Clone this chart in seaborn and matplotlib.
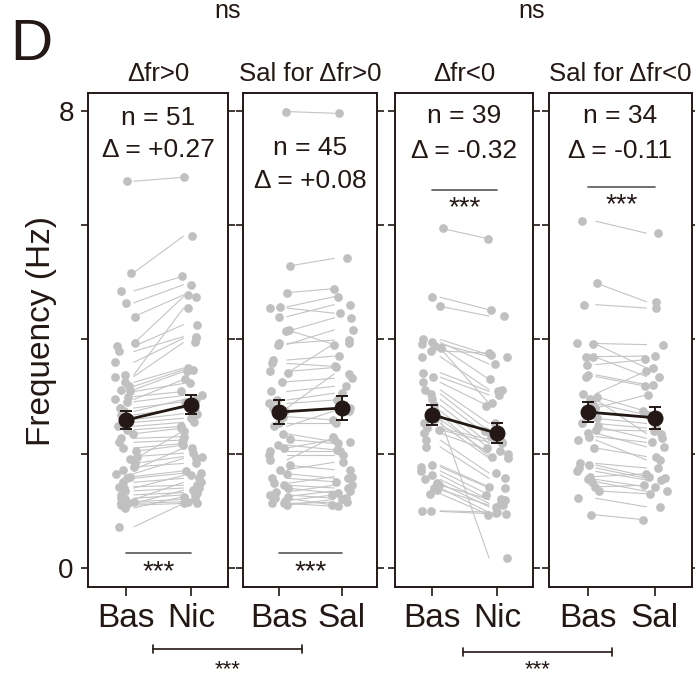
import numpy as np
import pandas as pd
import seaborn as sns
import matplotlib.pyplot as plt
from matplotlib import font_manager as fm

# firing frequency (Hz) of each cell, baseline vs treatment
bas_nic_up = [6.77, 5.17, 4.85, 4.64, 4.40, 3.93, 3.88, 3.79, 3.60, 3.38, 3.35, 3.25, 3.18,
              3.12, 3.09, 3.00, 2.95, 2.91, 2.80, 2.74, 2.68, 2.60, 2.55, 2.48, 2.42, 2.35,
              2.27, 2.20, 2.10, 2.04, 1.95, 1.90, 1.83, 1.77, 1.72, 1.65, 1.60, 1.57, 1.50,
              1.42, 1.40, 1.35, 1.28, 1.22, 1.20, 1.16, 1.13, 1.13, 1.10, 1.05, 0.72]
nic_up = [6.84, 5.81, 5.11, 4.96, 4.78, 4.75, 4.26, 4.05, 4.02, 4.55, 3.95, 3.50, 3.47,
          3.44, 3.23, 3.09, 3.30, 3.02, 2.91, 2.95, 2.80, 2.70, 2.62, 2.55, 2.48, 2.45,
          2.30, 2.24, 2.18, 2.15, 2.01, 2.40, 1.95, 1.83, 2.10, 1.92, 1.70, 1.66, 1.57,
          1.45, 1.62, 1.40, 1.32, 1.28, 1.50, 1.20, 1.16, 1.36, 1.13, 1.25, 1.13]

bas_sal_up = [7.99, 5.28, 4.82, 4.57, 4.55, 4.40, 4.17, 4.14, 3.93, 3.91, 3.64, 3.58, 3.44,
              3.41, 3.26, 3.09, 2.94, 2.88, 2.80, 2.74, 2.65, 2.53, 2.48, 2.35, 2.25, 2.15,
              2.04, 1.98, 1.89, 1.80, 1.72, 1.65, 1.57, 1.48, 1.45, 1.40, 1.33, 1.28, 1.25,
              1.22, 1.18, 1.13, 1.13, 1.10, 2.10]
sal_up = [7.96, 5.42, 4.89, 4.75, 4.46, 4.61, 3.91, 4.38, 3.99, 4.17, 3.71, 3.53, 3.51,
          3.93, 3.32, 3.18, 3.06, 2.94, 3.40, 2.80, 2.59, 2.53, 2.75, 2.21, 2.18, 2.07,
          2.04, 1.98, 2.30, 1.72, 1.85, 1.57, 1.51, 1.60, 1.40, 1.31, 1.45, 1.22, 1.35,
          1.10, 1.28, 1.15, 1.08, 1.20, 2.25]

bas_nic_down = [5.95, 4.74, 4.58, 4.00, 3.95, 3.92, 3.85, 3.80, 3.70, 3.42, 3.34, 3.25, 3.12,
                3.05, 2.95, 2.85, 2.75, 2.68, 2.60, 2.53, 2.45, 2.42, 2.36, 2.24, 2.12, 1.80,
                1.77, 1.70, 1.63, 1.55, 1.48, 1.45, 1.40, 1.37, 1.30, 1.00, 0.99, 2.62, 3.88]
nic_down = [5.76, 4.52, 4.41, 3.73, 3.57, 3.70, 2.88, 3.76, 3.12, 3.09, 3.03, 2.83, 2.53,
            2.39, 2.30, 2.18, 2.10, 1.95, 2.00, 1.92, 2.25, 2.20, 2.05, 1.66, 1.57, 1.42,
            1.40, 1.28, 1.19, 1.13, 1.07, 1.20, 0.97, 1.10, 0.93, 0.98, 0.95, 0.17, 3.30]

bas_sal_down = [6.07, 4.99, 4.61, 3.93, 3.92, 3.70, 3.69, 3.56, 3.38, 3.35, 3.05, 3.00, 2.88,
                2.80, 2.62, 2.53, 2.48, 2.42, 2.36, 2.30, 2.24, 2.10, 1.83, 1.80, 1.75, 1.69,
                1.60, 1.55, 1.51, 1.42, 1.35, 1.22, 0.93, 2.95]
sal_down = [5.86, 4.66, 4.55, 3.91, 3.50, 3.71, 3.35, 3.65, 3.21, 3.18, 3.45, 2.74, 2.68,
            3.03, 2.53, 2.45, 2.27, 2.40, 2.12, 2.20, 1.89, 1.95, 1.75, 1.60, 1.57, 1.54,
            1.65, 1.42, 1.34, 1.45, 1.30, 1.07, 0.84, 2.35]

# group mean +- SEM as drawn (black points)
means = [[2.59, 2.86], [2.73, 2.80], [2.68, 2.36], [2.73, 2.63]]
sems = [[0.16, 0.17], [0.21, 0.21], [0.17, 0.17], [0.18, 0.19]]

titles = ["Δfr>0", "Sal for Δfr>0", "Δfr<0", "Sal for Δfr<0"]
conds = [["Bas", "Nic"], ["Bas", "Sal"], ["Bas", "Nic"], ["Bas", "Sal"]]
n_text = ["n = 51", "n = 45", "n = 39", "n = 34"]
d_text = ["Δ = +0.27", "Δ = +0.08", "Δ = -0.32", "Δ = -0.11"]

pairs = [(bas_nic_up, nic_up), (bas_sal_up, sal_up),
         (bas_nic_down, nic_down), (bas_sal_down, sal_down)]

# ---------------- style ----------------
sns.set_style("white")
avail = {f.name for f in fm.fontManager.ttflist}
NARROW = next((f for f in ["Liberation Sans Narrow", "Arial Narrow", "DejaVu Sans Condensed"]
               if f in avail), "Liberation Sans")
plt.rcParams["font.family"] = [NARROW, "DejaVu Sans"]
INK = "#231815"
DOT = "#c0c0c0"

W, H = 695, 681
fig = plt.figure(figsize=(W / 100, H / 100), dpi=100)

# panel boxes in pixels (left, right), common top/bottom
boxes = [(88, 228), (243, 377), (395, 533), (549, 692)]
top, bot = 93, 587

# text placement per panel (data y of baselines) and significance bars
n_y = [7.755, 7.23, 7.79, 7.79]
d_y = [7.195, 6.65, 7.18, 7.18]
sig_line = [0.26, 0.26, 6.62, 6.67]

np.random.seed(3)
for i, (x0, x1) in enumerate(boxes):
    ax = fig.add_axes([x0 / W, 1 - bot / H, (x1 - x0) / W, (bot - top) / H])
    b, t = pairs[i]
    df = pd.DataFrame({"cond": [conds[i][0]] * len(b) + [conds[i][1]] * len(t),
                       "freq": b + t})
    lines = pd.DataFrame({"cell": list(range(len(b))) * 2,
                          "pos": [0.12] * len(b) + [0.88] * len(t),
                          "freq": b + t})

    sns.stripplot(data=df, x="cond", y="freq", order=conds[i], color=DOT,
                  size=6.3, jitter=0.18, linewidth=0, ax=ax, zorder=3)
    sns.lineplot(data=lines, x="pos", y="freq", units="cell", estimator=None,
                 color="#c4c4c4", lw=0.8, ax=ax, zorder=2, legend=False)
    ax.errorbar([0, 1], means[i], yerr=sems[i], fmt="-o", color=INK, ms=10.5,
                lw=2, elinewidth=1.4, capsize=4, capthick=1.4, zorder=5)

    ax.set_xlim(-0.58, 1.56)
    ax.set_ylim(-0.333, 8.315)
    ax.set_xticks([0, 1])
    ax.set_xticklabels(conds[i])
    ax.set_yticks([0, 2, 4, 6, 8])
    ax.set_yticklabels(["0", "", "", "", "8"])
    ax.set_xlabel("")
    ax.set_ylabel("")
    for sp in ax.spines.values():
        sp.set_color(INK)
        sp.set_linewidth(1.4)
    ax.tick_params(axis="y", direction="out", length=5.2, width=1.2, color=INK,
                   left=True, right=True, labelleft=(i == 0), labelsize=20,
                   labelcolor=INK, pad=5)
    ax.tick_params(axis="x", direction="out", length=6.5, width=1.2, color=INK,
                   bottom=True, labelsize=24, labelcolor=INK, pad=5)

    tr = ax.get_yaxis_transform()
    ax.text(0.5, n_y[i], n_text[i], transform=tr, ha="center", va="baseline",
            fontsize=19, color=INK)
    ax.text(0.5, d_y[i], d_text[i], transform=tr, ha="center", va="baseline",
            fontsize=19, color=INK)
    ax.plot([0, 1], [sig_line[i]] * 2, color="#595757", lw=1.2, zorder=4)
    star_y = sig_line[i] - 0.1
    ax.text(0.5, star_y, "***", transform=ax.transData, ha="center", va="top",
            fontsize=20, color=INK)
    ax.set_title(titles[i], fontsize=18.5, color=INK, pad=8.5)

# figure-level annotations in pixel space
ov = fig.add_axes([0, 0, 1, 1], zorder=10)
ov.set_xlim(0, W)
ov.set_ylim(H, 0)
ov.axis("off")
ov.patch.set_alpha(0)

ov.text(10, 60, "D", fontsize=42, color=INK, ha="left", va="baseline")
for cx in [228, 532]:
    ov.text(cx, 18, "ns", fontsize=18, color=INK, ha="center", va="baseline")

brackets = [(153, 302, 649), (463, 612, 652)]
for xa, xb, yb in brackets:
    ov.plot([xa, xb], [yb, yb], color=INK, lw=1.2)
    ov.plot([xa, xa], [yb - 4, yb + 4], color=INK, lw=1.2)
    ov.plot([xb, xb], [yb - 4, yb + 4], color=INK, lw=1.2)
    ov.text((xa + xb) / 2, H - 1, "***", fontsize=16, color=INK,
            ha="center", va="bottom")

ov.text(42, 331, "Frequency (Hz)", rotation=90, fontsize=24, color=INK,
        ha="center", va="center", family=["Liberation Sans", "DejaVu Sans"])

fig.savefig("out.png", dpi=100)
